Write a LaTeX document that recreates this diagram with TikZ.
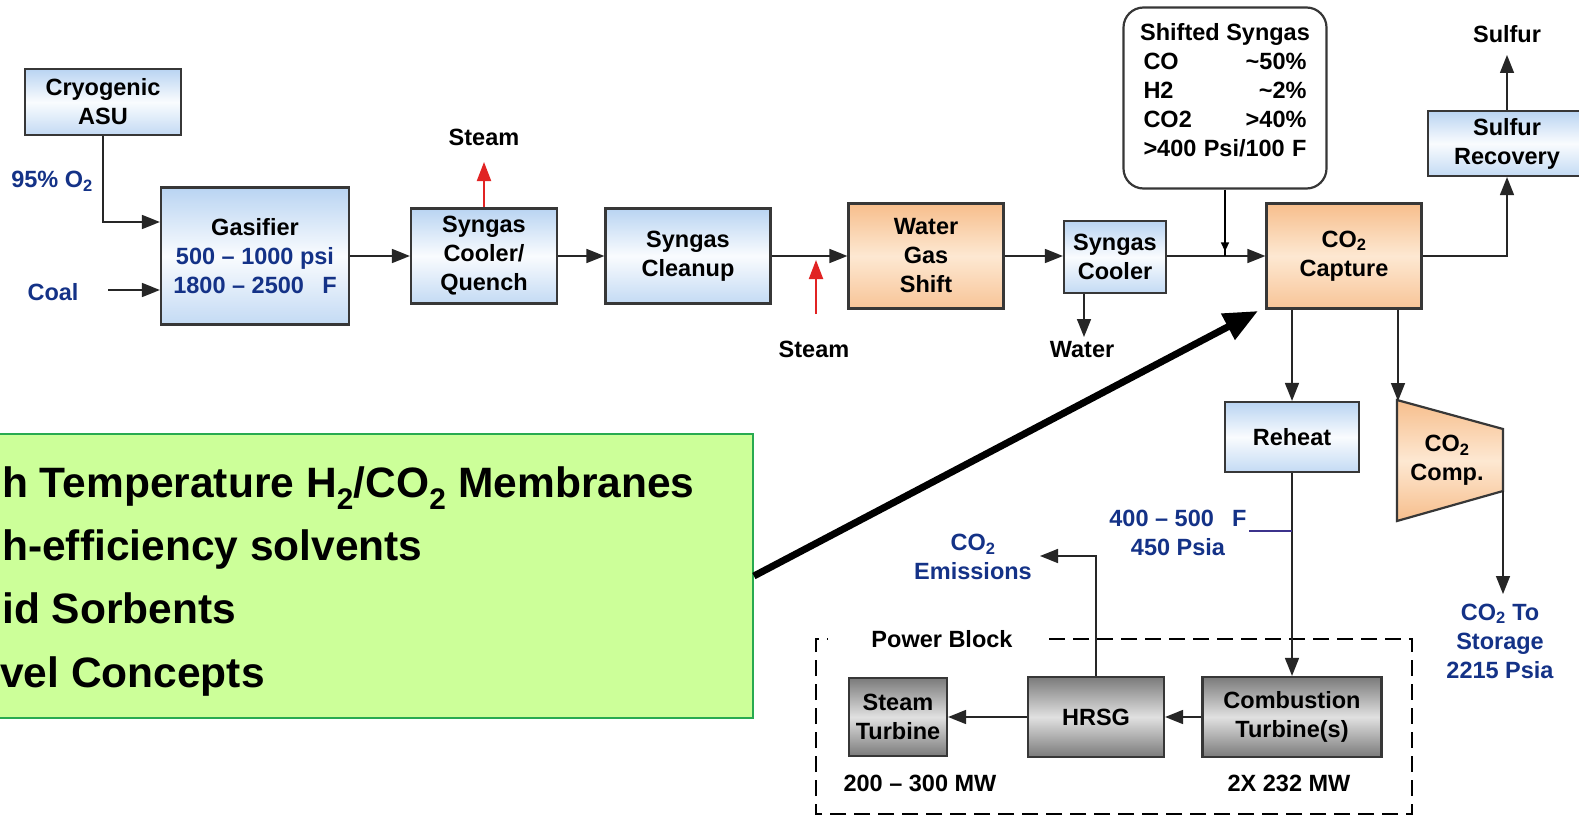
\documentclass[tikz,border=0pt]{standalone}
\usepackage{fontspec}
\setmainfont{Liberation Sans}
\usetikzlibrary{arrows.meta,calc,decorations.markings}
\definecolor{navy}{RGB}{20,50,135}
\definecolor{bord}{RGB}{55,55,55}
\definecolor{bluet}{RGB}{185,212,242}
\definecolor{orgt}{RGB}{247,190,140}
\definecolor{orgm}{RGB}{253,232,210}
\definecolor{gfill}{RGB}{204,255,153}
\definecolor{gline}{RGB}{40,170,80}
\definecolor{redc}{RGB}{225,35,35}
\definecolor{tick}{RGB}{60,50,140}
\begin{document}
\begin{tikzpicture}[x=1pt,y=-1pt,
  txt/.style={font=\fontsize{23.5}{29}\selectfont\bfseries, align=center, inner sep=0pt},
  navytxt/.style={txt, text=navy},
  box/.style={txt, draw=bord, line width=2.2pt, rectangle},
  bluebox/.style={box, top color=bluet, bottom color=bluet!85, middle color=white!92!bluet},
  orangebox/.style={box, top color=orgt, bottom color=orgt!90, middle color=orgm},
  graybox/.style={box, top color=black!52, bottom color=black!52, middle color=black!12},
  arr/.style={-{Triangle[length=18pt,width=14pt]}, line width=1.6pt, draw=black!85},
  redarr/.style={-{Triangle[length=19pt,width=14pt]}, line width=2pt, draw=redc},
  bigarr/.style={-{Triangle[length=34pt,width=28pt]}, line width=7pt},
  gtxt/.style={font=\fontsize{42.5}{50}\selectfont\bfseries, inner sep=0pt, anchor=base west},
  pbline/.style={line width=2.6pt, dash pattern=on 16pt off 8pt}
]
\useasboundingbox (0,0) rectangle (1579,816);
\fill[white] (0,0) rectangle (1579,816);

% green box
\node[draw=gline, fill=gfill, line width=1.8pt, minimum width=773pt, minimum height=284pt, inner sep=0pt] (gbox) at (366.5,576) {};
\node[gtxt] (g1) at (2,497) {h Temperature H\textsubscript{2}/CO\textsubscript{2} Membranes};
\node[gtxt] (g2) at (2,560) {h-efficiency solvents};
\node[gtxt] (g3) at (2,623) {id Sorbents};
\node[gtxt] (g4) at (0,687) {vel Concepts};

% upper process row
\node[bluebox, minimum width=156pt, minimum height=66pt] (asu) at (103,102) {Cryogenic\\ASU};
\node[bluebox, minimum width=188pt, minimum height=137pt] (gas) at (255,256) {Gasifier\\\textcolor{navy}{500 -- 1000 psi}\\\textcolor{navy}{1800 -- 2500\enspace\ F}};
\node[bluebox, minimum width=146pt, minimum height=95pt] (scq) at (484,256) {Syngas\\Cooler/\\Quench};
\node[bluebox, minimum width=165pt, minimum height=95pt] (scl) at (688,256) {Syngas\\Cleanup};
\node[orangebox, minimum width=155pt, minimum height=105pt] (wgs) at (926,256) {Water\\Gas\\Shift};
\node[bluebox, minimum width=102pt, minimum height=72pt] (sco) at (1115,257) {Syngas\\Cooler};
\node[orangebox, minimum width=155pt, minimum height=105pt] (cap) at (1344,256) {CO\textsubscript{2}\\Capture};
\node[bluebox, minimum width=158pt, minimum height=65pt] (sr) at (1507,143.5) {Sulfur\\Recovery};
\node[draw=bord, fill=white, line width=2.2pt, rounded corners=20pt, minimum width=203pt, minimum height=181pt] (ss) at (1225,98) {};
\node[txt] (sstxt) at (1225,90) {Shifted Syngas\\
  \hbox to 163pt{CO\hfill\textasciitilde50\%}\\
  \hbox to 163pt{H2\hfill\textasciitilde2\%}\\
  \hbox to 163pt{CO2\hfill>40\%}\\
  \hbox to 163pt{>400 Psi/100 F}};

% lower right
\node[bluebox, minimum width=134pt, minimum height=70pt] (reheat) at (1292,437) {Reheat};
\shade[top color=orgt, bottom color=orgt, middle color=orgm, draw=bord, line width=2.2pt]
  (1397,400) -- (1503,429) -- (1503,491) -- (1397,521) -- cycle;
\node[txt] (comp) at (1447,460) {CO\textsubscript{2}\\Comp.};

% power block
\node[graybox, minimum width=98pt, minimum height=78pt] (st) at (898,717) {Steam\\Turbine};
\node[graybox, minimum width=136pt, minimum height=80pt] (hrsg) at (1096,717) {HRSG};
\node[graybox, minimum width=179pt, minimum height=80pt] (ct) at (1292,717) {Combustion\\Turbine(s)};
\node[txt] (pb) at (942,639) {Power Block};
\node[txt] (mw1) at (920,783) {200 -- 300 MW};
\node[txt] (mw2) at (1289,783) {2X 232 MW};
\draw[pbline] (1049,639) -| (1412,814) -| (816,639) -- (828,639);

% labels
\node[navytxt] (o2) at (52,181) {95\% O\textsubscript{2}};
\node[navytxt] (coal) at (53,292) {Coal};
\node[txt] (steam1) at (484,137) {Steam};
\node[txt] (steam2) at (814,349) {Steam};
\node[txt] (water) at (1082,350) {Water};
\node[txt] (sulfur) at (1507,34) {Sulfur};
\node[navytxt] (temp) at (1178,533) {400 -- 500\enspace\ F\\450 Psia};
\node[navytxt] (emis) at (973,557) {CO\textsubscript{2}\\Emissions};
\node[navytxt] (stor) at (1500,641) {CO\textsubscript{2} To\\Storage\\2215 Psia};

% coordinates
\coordinate (coalout) at (108,290);
\coordinate (s1tip) at (484,162);
\coordinate (s2in) at (816,314);
\coordinate (s2tip) at (816,260);
\coordinate (wtip) at (1084,337);
\coordinate (ctl) at (1398,401);
\coordinate (cbr) at (1503,491);
\coordinate (stip) at (1503,594);
\coordinate (tk) at (1249,531);
\coordinate (etip) at (1040,556);
\coordinate (bigtip) at (1258,311);

% connectors
\draw[arr] (asu.south) |- ([yshift=34pt]gas.west);
\draw[arr] (coalout) -- (coalout -| gas.west);
\draw[arr] (gas.east) -- (scq.west);
\draw[arr] (scq.east) -- (scl.west);
\draw[arr] (scl.east) -- (wgs.west);
\draw[arr] (wgs.east) -- (wgs.east -| sco.west);
\draw[arr] (sco.east |- cap.west) -- (cap.west);
\draw[redarr] (scq.north) -- (s1tip);
\draw[redarr] (s2in) -- (s2tip);
\draw[arr] (wtip |- sco.south) -- (wtip);
\draw[line width=1.5pt, postaction={decorate}, decoration={markings, mark=at position 0.93 with {\arrow{Triangle[length=9pt,width=8pt]}}}] (ss.south) -- (ss.south |- cap.west);
\draw[arr] (cap.east) -| (sr.south);
\draw[arr] (sr.north) -- (sr.north |- 0,55);
\draw[arr] (cap.south -| reheat.north) -- (reheat.north);
\draw[arr] (cap.south -| ctl) -- (ctl);
\draw[arr] (cbr) -- (stip);
\draw[arr] (reheat.south) -- (ct.north);
\draw[tick, line width=1.8pt] (tk) -- (tk -| reheat.south);
\draw[arr] (ct.west) -- (hrsg.east);
\draw[arr] (hrsg.west) -- (st.east);
\draw[arr] (hrsg.north) |- (etip);
\draw[bigarr] (gbox.east) -- (bigtip);
\end{tikzpicture}
\end{document}
